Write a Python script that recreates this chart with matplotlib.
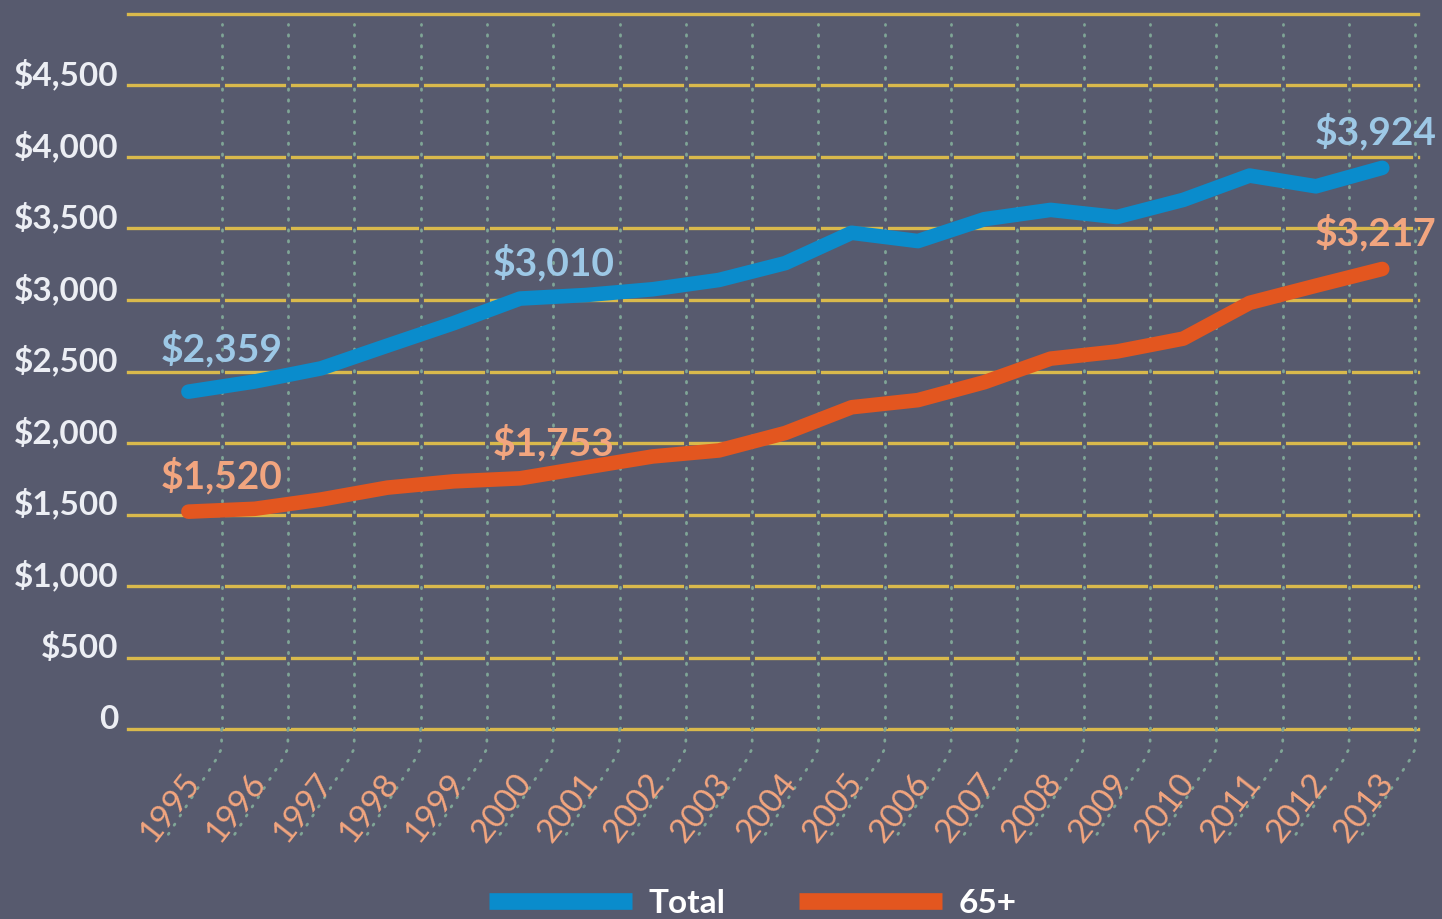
import matplotlib
matplotlib.use("Agg")
import matplotlib.pyplot as plt
import matplotlib.transforms as mtransforms
from matplotlib.lines import Line2D
from matplotlib.ticker import FuncFormatter

# spending per person, 1995-2013
years = list(range(1995, 2014))
total = [2359, 2430, 2522, 2681, 2838, 3010, 3035, 3075, 3140, 3258,
         3470, 3412, 3565, 3630, 3580, 3700, 3870, 3795, 3924]
age65 = [1520, 1540, 1605, 1688, 1732, 1753, 1830, 1906, 1948, 2070,
         2250, 2300, 2425, 2590, 2640, 2730, 2980, 3100, 3217]
series_names = ["Total", "65+"]
labelled = [0, 5, 18]  # which years get a value label
y_ticks = list(range(0, 5001, 500))

bg = "#575a6e"
grid_yellow = "#d9b94c"
dot_color = "#7fa596"
blue = "#0a8ccc"
orange = "#e3561f"
blue_txt = "#9dc8e6"
orange_txt = "#f2a57f"
tick_txt = "#eceef4"

plt.rcParams["font.family"] = ["Lato", "DejaVu Sans"]
plt.rcParams["ytick.alignment"] = "baseline"

fig = plt.figure(figsize=(14.42, 9.19), dpi=100, facecolor=bg)
ax = fig.add_axes((0.0888, 0.2067, 0.8946, 0.7781))
ax.set_facecolor(bg)
ax.set_xlim(-0.91, 18.54)
ax.set_ylim(0, 5000)
for s in ax.spines.values():
    s.set_visible(False)

# yellow horizontal grid
for v in y_ticks:
    ax.axhline(v, color=grid_yellow, lw=2.4, zorder=1, clip_on=False)

# dotted category separators, bending under the axis towards the labels
bend = [(0, 0), (0, -14), (-4, -22), (-15.5, -40), (-41, -80)]
for i in range(len(years)):
    b = i + 0.5
    ax.plot([b, b], [0, 4930], color=bg, lw=3.5, zorder=2, solid_capstyle="butt")
    ax.plot([b, b], [0, 4930], color=dot_color, lw=2.0, zorder=3,
            linestyle=(0, (0.5, 3.4)), dash_capstyle="round")
    off = mtransforms.Affine2D().scale(1 / 72) + fig.dpi_scale_trans + \
        mtransforms.ScaledTranslation(b, 0, ax.transData)
    ax.add_line(Line2D([p[0] for p in bend], [p[1] for p in bend], transform=off,
                       color=dot_color, lw=2.0, linestyle=(0, (0.5, 3.4)),
                       dash_capstyle="round", clip_on=False, zorder=3))

x = list(range(len(years)))
ax.plot(x, total, color=blue, lw=10.5, solid_capstyle="round",
        solid_joinstyle="round", zorder=5, label=series_names[0])
ax.plot(x, age65, color=orange, lw=10.5, solid_capstyle="round",
        solid_joinstyle="round", zorder=5, label=series_names[1])

# value labels
for series, col in ((total, blue_txt), (age65, orange_txt)):
    for i in labelled:
        dx = -5 if i == len(years) - 1 else 24
        dy = 26 if i != 0 or series is age65 else 31
        ax.annotate(f"${series[i]:,}", xy=(i, series[i]), xytext=(dx, dy),
                    textcoords="offset points", ha="center", va="center",
                    fontsize=28, fontweight="bold", color=col, zorder=6)

# y axis
ax.set_yticks(y_ticks[:-1])
ax.yaxis.set_major_formatter(FuncFormatter(lambda v, p: "0" if v == 0 else f"${v:,.0f}"))
ax.tick_params(axis="y", length=0, pad=7, labelsize=24, labelcolor=tick_txt)
for lbl in ax.get_yticklabels():
    lbl.set_fontweight("bold")

# x axis: rotated year labels
ax.set_xticks([])
for i, yr in enumerate(years):
    ax.annotate(str(yr), xy=(i, 0), xycoords=("data", "axes fraction"),
                xytext=(4, -35), textcoords="offset points", rotation=52,
                rotation_mode="anchor", ha="right", va="center",
                fontsize=24, color=orange_txt)

# legend at the bottom
handles = [Line2D([], [], color=blue, lw=12, solid_capstyle="butt"),
           Line2D([], [], color=orange, lw=12, solid_capstyle="butt")]
leg = fig.legend(handles, series_names, loc="center", bbox_to_anchor=(0.522, 0.017),
                 ncol=2, frameon=False, handlelength=4.3, handletextpad=0.5,
                 columnspacing=2.2, fontsize=24)
for t in leg.get_texts():
    t.set_color("white")
    t.set_fontweight("bold")

fig.savefig("out.png", dpi=100, facecolor=bg)
